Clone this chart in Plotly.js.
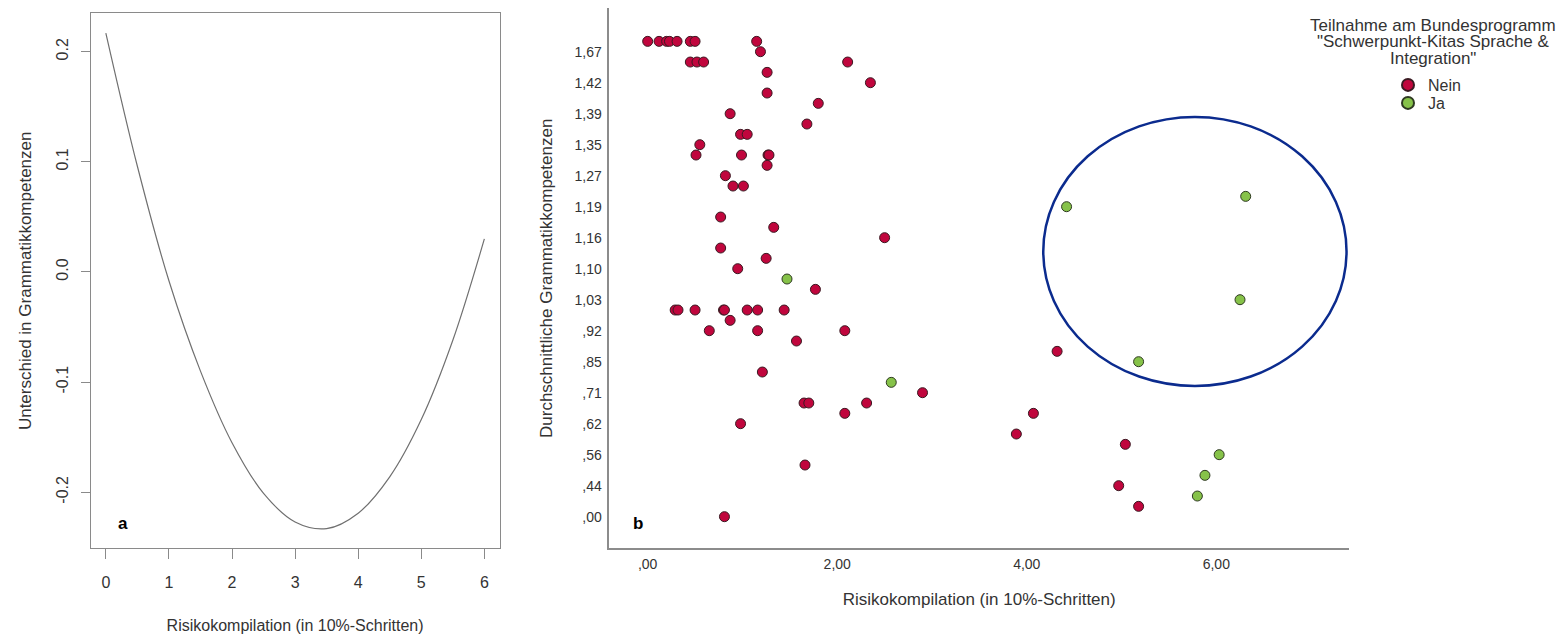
<!DOCTYPE html>
<html><head><meta charset="utf-8">
<script src="https://cdn.plot.ly/plotly-3.0.1.min.js"></script>
<style>html,body{margin:0;padding:0;background:#fff;} #chart{width:1556px;height:636px;}</style>
</head><body><div id="chart"></div>
<script>
// ---------- Panel a: fitted difference curve ----------
const curveX = [0, 0.5, 1, 1.5, 2, 2.5, 3, 3.5, 4, 4.5, 5, 5.5, 6];
const curveY = [0.217, 0.096, -0.008, -0.090, -0.155, -0.201, -0.227, -0.233, -0.219, -0.186, -0.134, -0.062, 0.030];
const aXTickVals = [0, 1, 2, 3, 4, 5, 6];
const aXTickText = ["0", "1", "2", "3", "4", "5", "6"];
const aYTickVals = [-0.2, -0.1, 0, 0.1, 0.2];
const aYTickText = ["-0.2", "-0.1", "0.0", "0.1", "0.2"];

// ---------- Panel b: scatter (y axis is ordinal: rank of the mean-score category) ----------
const bYTickRanks = [0, 3, 6, 9, 12, 15, 18, 21, 24, 27, 30, 33, 36, 39, 42, 45];
const bYTickText = [",00", ",44", ",56", ",62", ",71", ",85", ",92", "1,03", "1,10", "1,16", "1,19", "1,27", "1,35", "1,39", "1,42", "1,67"];
const bXTickVals = [0, 2, 4, 6];
const bXTickText = [",00", "2,00", "4,00", "6,00"];

const groupNames = ["Nein", "Ja"];
const neinX = [0.00, 0.12, 0.20, 0.23, 0.31, 0.45, 0.50, 1.15,
  1.19,
  0.45, 0.52, 0.59, 2.11,
  1.26, 2.35, 1.26, 1.80, 0.87, 1.68,
  0.98, 1.05,
  0.55,
  0.51, 0.99, 1.27, 1.28,
  1.26, 0.82,
  0.90, 1.01,
  0.77, 1.33, 2.50, 0.77, 1.25, 0.95, 1.77,
  0.29, 0.32, 0.50, 0.80, 0.81, 1.05, 1.16, 1.44,
  0.87,
  0.65, 1.16, 2.08,
  1.57, 4.32, 1.21, 2.90,
  1.65, 1.70, 2.31,
  2.08, 4.07,
  0.98, 3.89, 5.04, 1.66, 4.97, 5.18, 0.81];
const neinRank = [46, 46, 46, 46, 46, 46, 46, 46,
  45,
  44, 44, 44, 44,
  43, 42, 41, 40, 39, 38,
  37, 37,
  36,
  35, 35, 35, 35,
  34, 33,
  32, 32,
  29, 28, 27, 26, 25, 24, 22,
  20, 20, 20, 20, 20, 20, 20, 20,
  19,
  18, 18, 18,
  17, 16, 14, 12,
  11, 11, 11,
  10, 10,
  9, 8, 7, 5, 3, 1, 0];
const jaX = [6.31, 4.42, 1.47, 6.25, 5.18, 2.57, 6.03, 5.88, 5.80];
const jaRank = [31, 30, 23, 21, 15, 13, 6, 4, 2];

const legendTitleLines = ['Teilnahme am Bundesprogramm', '"Schwerpunkt-Kitas Sprache &amp;', 'Integration"'];

const W = 1556, H = 636;
const px = v => v / W;
const py = v => 1 - v / H;

const FONT = 'Liberation Sans, Arial, sans-serif';
const greyLine = '#8a8a8a';

const traces = [
  {
    x: curveX, y: curveY, type: 'scatter', mode: 'lines',
    line: {color: '#707070', width: 1.2, shape: 'spline'},
    xaxis: 'x', yaxis: 'y', showlegend: false, hoverinfo: 'skip'
  },
  {
    x: neinX, y: neinRank, type: 'scatter', mode: 'markers', name: groupNames[0],
    marker: {size: 10, color: '#c0063d', line: {color: '#3a1a22', width: 1}},
    xaxis: 'x2', yaxis: 'y2', legend: 'legend'
  },
  {
    x: jaX, y: jaRank, type: 'scatter', mode: 'markers', name: groupNames[1],
    marker: {size: 10, color: '#86c249', line: {color: '#2f3a22', width: 1}},
    xaxis: 'x2', yaxis: 'y2', legend: 'legend2'
  }
];

const legendBase = {
  x: px(1388), xanchor: 'left', yanchor: 'middle',
  font: {size: 16, color: '#333'}, itemsizing: 'constant',
  bgcolor: 'rgba(0,0,0,0)', borderwidth: 0, tracegroupgap: 0
};

const titleAnnotations = legendTitleLines.map((t, i) => ({
  text: t, xref: 'paper', yref: 'paper', x: px(1433), y: py(25 + i * 16.7), showarrow: false,
  font: {size: 17, color: '#333', family: FONT}, xanchor: 'center', yanchor: 'middle'
}));

const layout = {
  width: W, height: H, autosize: false,
  margin: {l: 0, r: 0, t: 0, b: 0},
  paper_bgcolor: '#fff', plot_bgcolor: '#fff',
  font: {family: FONT, color: '#333'},
  showlegend: true,
  xaxis: {
    domain: [px(90.7), px(499.5)], anchor: 'y',
    range: [-0.24, 6.24], tickmode: 'array', tickvals: aXTickVals, ticktext: aXTickText,
    showline: true, mirror: true, linecolor: greyLine, linewidth: 1,
    ticks: 'outside', ticklen: 10, tickcolor: greyLine, tickwidth: 1,
    ticklabelstandoff: 9,
    showgrid: false, zeroline: false,
    tickfont: {size: 16, color: '#333'},
    title: {text: 'Risikokompilation (in 10%-Schritten)', font: {size: 16, color: '#333'}, standoff: 30}
  },
  yaxis: {
    domain: [py(548.3), py(13.3)], anchor: 'x',
    range: [-0.2509, 0.2349], tickmode: 'array', tickvals: aYTickVals, ticktext: aYTickText,
    showline: true, mirror: true, linecolor: greyLine, linewidth: 1,
    ticks: 'outside', ticklen: 9, tickcolor: greyLine, tickwidth: 1, tickangle: -90,
    ticklabelstandoff: 6,
    showgrid: false, zeroline: false,
    tickfont: {size: 16, color: '#333'},
    title: {text: 'Unterschied in Grammatikkompetenzen', font: {size: 17, color: '#333'}, standoff: 18}
  },
  xaxis2: {
    domain: [px(609.3), px(1349)], anchor: 'y2',
    range: [-0.405, 7.40], tickmode: 'array', tickvals: bXTickVals, ticktext: bXTickText,
    showline: true, linecolor: '#8c8c8c', linewidth: 1.5, ticks: '',
    ticklabelstandoff: 2,
    showgrid: false, zeroline: false,
    tickfont: {size: 14, color: '#333'},
    title: {text: 'Risikokompilation (in 10%-Schritten)', font: {size: 17, color: '#333'}, standoff: 22}
  },
  yaxis2: {
    domain: [py(548.3), py(8.3)], anchor: 'x2',
    range: [-3.06, 49.2], tickmode: 'array', tickvals: bYTickRanks, ticktext: bYTickText,
    showline: true, linecolor: '#8c8c8c', linewidth: 1.5, ticks: '',
    ticklabelstandoff: 3,
    showgrid: false, zeroline: false,
    tickfont: {size: 14, color: '#333'},
    title: {text: 'Durchschnittliche Grammatikkompetenzen', font: {size: 17, color: '#333'}, standoff: 18}
  },
  legend: Object.assign({}, legendBase, {y: py(85)}),
  legend2: Object.assign({}, legendBase, {y: py(103)}),
  shapes: [
    {type: 'circle', xref: 'x2', yref: 'y2', x0: 4.174, x1: 7.374, y0: 12.65, y1: 38.69,
     line: {color: '#0b2b8e', width: 2.5}, fillcolor: 'rgba(0,0,0,0)'}
  ],
  annotations: [
    {text: '<b>a</b>', xref: 'paper', yref: 'paper', x: px(123), y: py(523), showarrow: false,
     font: {size: 17, color: '#000', family: FONT}, xanchor: 'center', yanchor: 'middle'},
    {text: '<b>b</b>', xref: 'paper', yref: 'paper', x: px(638), y: py(523), showarrow: false,
     font: {size: 17, color: '#000', family: FONT}, xanchor: 'center', yanchor: 'middle'}
  ].concat(titleAnnotations)
};

Plotly.newPlot('chart', traces, layout, {displayModeBar: false, responsive: false});
</script>
</body></html>
